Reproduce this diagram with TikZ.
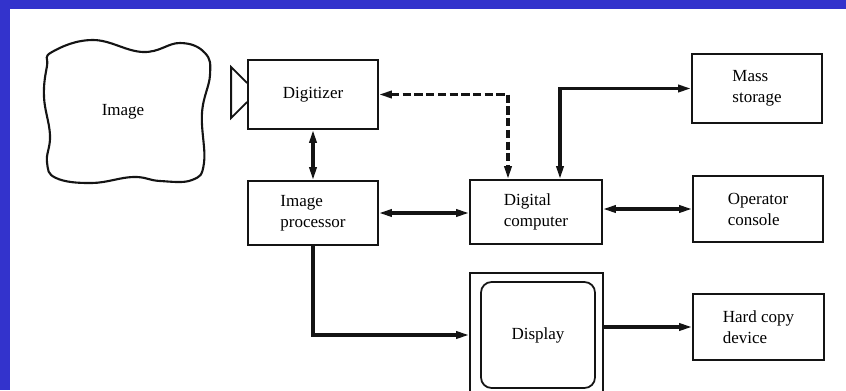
\documentclass[tikz,border=0pt]{standalone}
\usepackage{fontspec}
\setmainfont{Liberation Serif}
\usetikzlibrary{arrows.meta,calc}

\definecolor{frameblue}{RGB}{51,51,204}
\definecolor{inkline}{RGB}{20,20,20}

\begin{document}
\begin{tikzpicture}[x=0.03cm, y=-0.03cm,
  box/.style={draw=inkline, line width=1.5pt, align=left, inner sep=0pt,
    font=\fontsize{14.5}{18}\selectfont},
  link/.style={draw=inkline, line width=2.6pt},
  tip/.tip={Triangle[length=11pt,width=6pt]}]

  % Frame and page
  \useasboundingbox (0,0) rectangle (846,390);
  \fill[frameblue] (0,0) rectangle (846,390);
  \fill[white] (10,9) rectangle (846,390);

  % Image blob
  \draw[inkline, line width=1.8pt] plot[smooth cycle, tension=0.7] coordinates {
    (52,52) (93,40) (143,52) (180,43) (205,53) (210,75) (202,113)
    (204,163) (192,180) (160,181) (133,177) (92,183) (56,178) (47,162)
    (50,135) (44,97) (47,66)};
  \node[font=\fontsize{14.5}{18}\selectfont] (img) at (123,112) {Image};

  % Boxes
  \node[box, minimum width=3.9cm, minimum height=2.07cm] (dig) at (313,94.5) {Digitizer};
  \node[box, minimum width=3.9cm, minimum height=1.92cm] (proc) at (313,213) {Image\\processor};
  \node[box, minimum width=3.96cm, minimum height=1.92cm] (comp) at (536,212) {Digital\\computer};
  \node[box, minimum width=3.9cm, minimum height=2.07cm] (mass) at (757,88.5) {Mass\\storage};
  \node[box, minimum width=3.9cm, minimum height=1.98cm] (oper) at (758,209) {Operator\\console};
  \node[box, minimum width=3.93cm, minimum height=1.98cm] (hard) at (758.5,327) {Hard copy\\device};

  % Display monitor
  \node[box, minimum width=3.99cm, minimum height=4.02cm] (case) at (536.5,340) {};
  \node[box, rounded corners=9pt, minimum width=3.42cm, minimum height=3.18cm] (disp) at (538,335) {Display};

  % Camera lens on the digitizer
  \draw[inkline, line width=1.5pt] ($(dig.west)+(0,-11.5)$) -- ++(-16,-16) -- ++(0,51) -- ++(16,-16);

  % Connections
  \draw[link, tip-tip] (dig.south) -- (proc.north);
  \draw[link, tip-tip] (proc.east) -- (proc.east -| comp.west);
  \draw[link, tip-tip, dash pattern=on 7pt off 3pt] (dig.east) -| ($(comp.north)+(-28,0)$);
  \draw[link, tip-tip] ($(comp.north)+(24,0)$) |- (mass.west);
  \draw[link, tip-tip] (oper.west -| comp.east) -- (oper.west);
  \draw[link, -tip] (proc.south) |- (disp.west -| case.west);
  \draw[link, -tip] (hard.west -| case.east) -- (hard.west);

\end{tikzpicture}
\end{document}
